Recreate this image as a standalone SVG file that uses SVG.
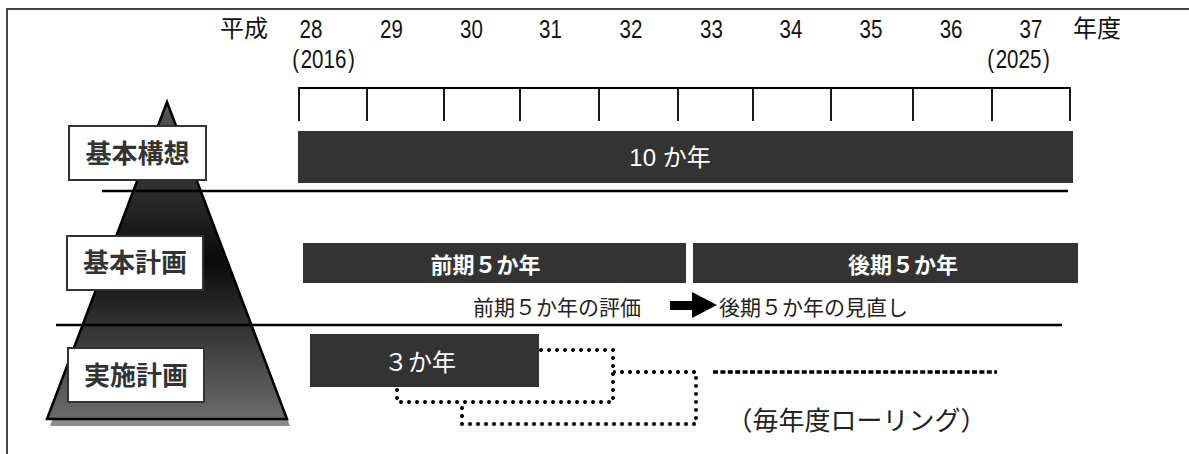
<svg xmlns="http://www.w3.org/2000/svg" width="1189" height="454" viewBox="0 0 1189 454">
  <style>
    .hdr { font-family: "Liberation Sans", "Noto Sans CJK JP", sans-serif; font-size: 25px; fill: #111; }
    .hdrj { font-family: "Noto Sans CJK JP", sans-serif; font-size: 24px; fill: #111; }
    .lbl { font-family: "Noto Sans CJK JP", sans-serif; font-size: 26px; font-weight: 700; fill: #333; text-anchor: middle; }
    .box { fill: #fff; stroke: #333; stroke-width: 2; }
    .bar { fill: #333; }
    .wt { font-family: "Liberation Sans", "Noto Sans CJK JP", sans-serif; fill: #fff; }
    .sub { font-family: "Noto Sans CJK JP", sans-serif; font-size: 21px; fill: #222; }
    .dots { fill: #fff; stroke: #000; stroke-width: 4; stroke-dasharray: 0 8; stroke-linecap: round; }
    .rule { stroke: #000; stroke-width: 2.5; }
    .tick { stroke: #000; stroke-width: 1.8; fill: none; }
  </style>
  <defs>
    <linearGradient id="pyr" gradientUnits="userSpaceOnUse" x1="0" y1="102" x2="0" y2="419">
      <stop offset="0" stop-color="#5a5a5a"/>
      <stop offset="0.5" stop-color="#0a0a0a"/>
      <stop offset="1" stop-color="#6b6b6b"/>
    </linearGradient>
  </defs>

  <rect x="0" y="0" width="1189" height="454" fill="#fff"/>
  <rect id="frame" x="7" y="9" width="1200" height="460" fill="none" stroke="#444" stroke-width="2"/>

  <g id="header">
    <text class="hdrj" x="220" y="37">平成</text>
    <g class="hdr" text-anchor="middle" transform="scale(0.82,1)">
      <text x="379.3" y="38">28</text>
      <text x="477.4" y="38">29</text>
      <text x="575" y="38">30</text>
      <text x="671.3" y="38">31</text>
      <text x="769.5" y="38">32</text>
      <text x="867.7" y="38">33</text>
      <text x="964.6" y="38">34</text>
      <text x="1062.2" y="38">35</text>
      <text x="1159.8" y="38">36</text>
      <text x="1257.3" y="38">37</text>
      <text x="394.5" y="68">(<tspan dx="2">2016</tspan><tspan dx="2">)</tspan></text>
      <text x="1242.1" y="68">(<tspan dx="2">2025</tspan><tspan dx="2">)</tspan></text>
    </g>
    <text class="hdrj" x="1073" y="37">年度</text>
  </g>

  <g id="ruler">
    <path class="tick" d="M299 121V88H1070V121 M367 88V121 M444 88V121 M520 88V121 M599 88V121 M678 88V121 M753 88V121 M831 88V121 M913 88V121 M992 88V121"/>
  </g>

  <g id="pyramid">
    <polygon points="170,108 50,426 290,426" fill="#8c8c8c"/>
    <polygon points="167,102 47,419 287,419" fill="url(#pyr)" stroke="#000" stroke-width="2.5" stroke-linejoin="miter"/>
  </g>

  <g id="dividers">
    <line class="rule" x1="102" y1="191" x2="1068" y2="191"/>
    <line class="rule" x1="56" y1="325" x2="1062" y2="325"/>
  </g>

  <g id="label-kihonkoso">
    <rect class="box" x="69" y="126" width="137" height="54"/>
    <text class="lbl" x="137.5" y="163">基本構想</text>
  </g>
  <g id="label-kihonkeikaku">
    <rect class="box" x="67" y="236" width="136" height="54"/>
    <text class="lbl" x="135" y="272">基本計画</text>
  </g>
  <g id="label-jisshikeikaku">
    <rect class="box" x="68" y="348" width="136" height="54"/>
    <text class="lbl" x="136" y="385">実施計画</text>
  </g>

  <g id="bar-10">
    <rect class="bar" x="298" y="131" width="775" height="52"/>
    <text class="wt" x="670" y="166" font-size="24" text-anchor="middle">10 か年</text>
  </g>

  <g id="bar-zenki">
    <rect class="bar" x="303" y="243" width="383" height="40"/>
    <text class="wt" x="485.5" y="273" font-size="22" font-weight="700" text-anchor="middle">前期５か年</text>
  </g>
  <g id="bar-koki">
    <rect class="bar" x="693" y="243" width="385" height="40"/>
    <text class="wt" x="903" y="273" font-size="22" font-weight="700" text-anchor="middle">後期５か年</text>
  </g>

  <g id="review">
    <text class="sub" x="473" y="315">前期５か年の評価</text>
    <g id="connectors">
      <rect x="670" y="301" width="23" height="9" fill="#000"/>
      <polygon points="692,292 717,305 692,318" fill="#000"/>
    </g>
    <text class="sub" x="719" y="315">後期５か年の見直し</text>
  </g>

  <g id="rolling">
    <rect class="dots" x="462" y="372" width="234" height="52"/>
    <rect class="dots" x="397" y="350" width="216" height="52"/>
    <line x1="713" y1="372" x2="997" y2="372" stroke="#000" stroke-width="3.5" stroke-dasharray="5 2.4"/>
    <text x="856.5" y="430" font-family="Noto Sans CJK JP, sans-serif" font-size="26" fill="#222" text-anchor="middle">（毎年度ローリング）</text>
  </g>

  <g id="bar-3">
    <rect class="bar" x="310" y="334" width="229" height="53"/>
    <text class="wt" x="384" y="371" font-size="24">３か年</text>
  </g>
</svg>
